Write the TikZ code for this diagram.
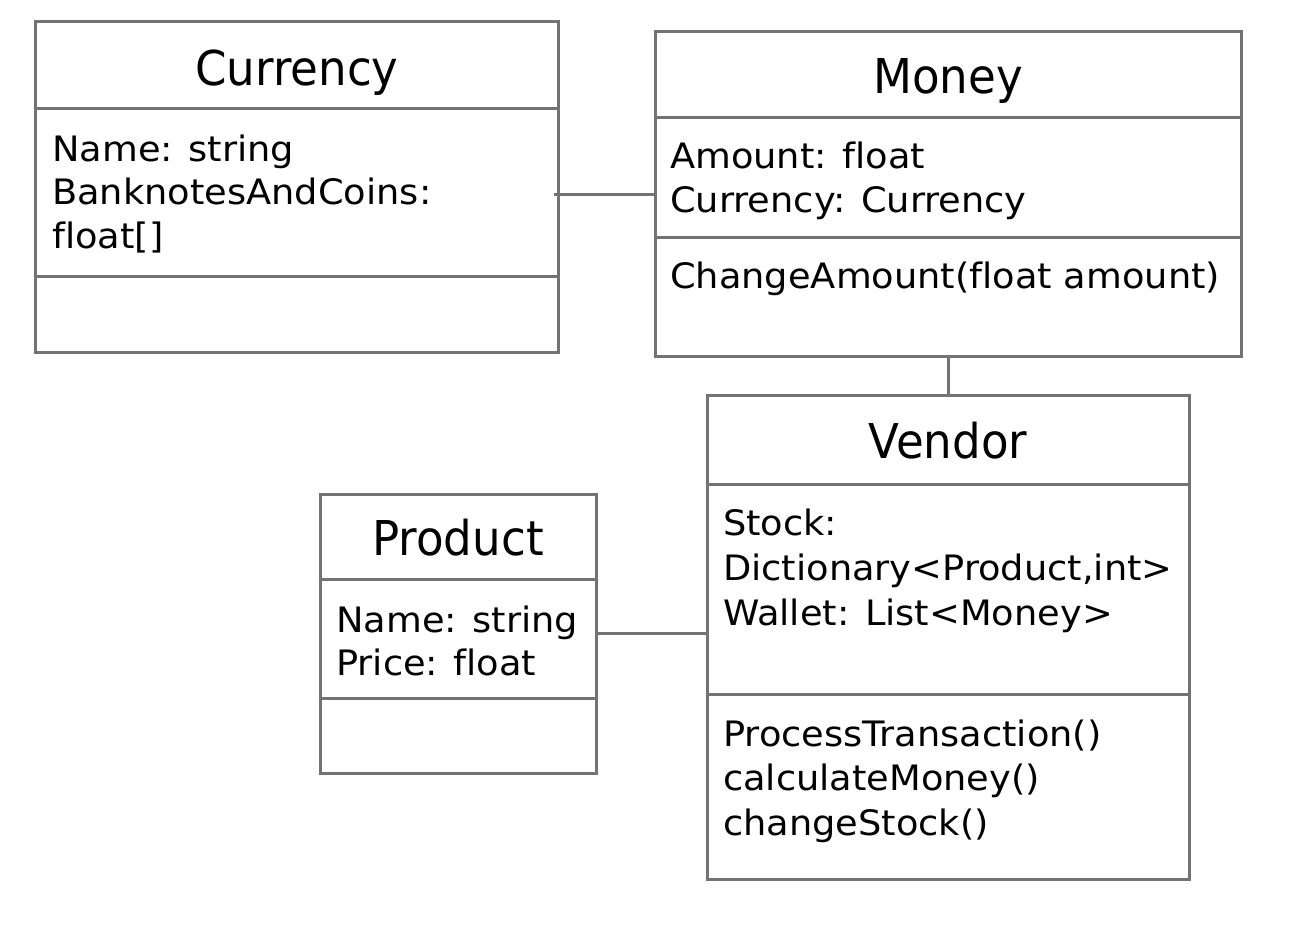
\documentclass[tikz,border=0pt]{standalone}
\usepackage{fontspec}
\setmainfont[Ligatures=NoCommon]{DejaVu Sans}
\newfontfamily\attrfont[Ligatures=NoCommon, FakeStretch=1.05]{DejaVu Sans}
\newfontfamily\titlefont[Ligatures=NoCommon, FakeStretch=0.94]{DejaVu Sans}
\definecolor{linegray}{RGB}{115,115,115}
\begin{document}
\begin{tikzpicture}[x=1bp,y=-1bp,
  box/.style={draw=linegray, line width=3bp, inner sep=0pt, fill=white},
  divider/.style={draw=linegray, line width=3bp},
  conn/.style={draw=linegray, line width=3bp},
  title/.style={anchor=base, inner sep=0pt, font=\titlefont\fontsize{48bp}{58bp}\selectfont},
  attr/.style={anchor=base west, inner sep=0pt, font=\attrfont\fontsize{35bp}{44bp}\selectfont}]
\useasboundingbox (0,0) rectangle (1299,942);
% boxes
\node[box, minimum width=522bp, minimum height=330bp] (currency) at (297,187) {};
\node[box, minimum width=586bp, minimum height=324bp] (money) at (948,194) {};
\node[box, minimum width=276bp, minimum height=279bp] (product) at (458,633.5) {};
\node[box, minimum width=482bp, minimum height=484bp] (vendor) at (948,637) {};
% dividers
\draw[divider] (currency.west |- 0,108) -- (currency.east |- 0,108);
\draw[divider] (currency.west |- 0,276) -- (currency.east |- 0,276);
\draw[divider] (money.west |- 0,117) -- (money.east |- 0,117);
\draw[divider] (money.west |- 0,237) -- (money.east |- 0,237);
\draw[divider] (product.west |- 0,579) -- (product.east |- 0,579);
\draw[divider] (product.west |- 0,698) -- (product.east |- 0,698);
\draw[divider] (vendor.west |- 0,484) -- (vendor.east |- 0,484);
\draw[divider] (vendor.west |- 0,694) -- (vendor.east |- 0,694);
% titles
\node[title] (currencyT) at (297,85) {Currency};
\node[title] (moneyT) at (948,93) {Money};
\node[title] (productT) at (458,555) {Product};
\node[title] (vendorT) at (948,458) {Vendor};
% Currency attributes
\node[attr] (c1) at (52,161) {Name: string};
\node[attr] (c2) at (52,204) {BanknotesAndCoins:};
\node[attr] (c3) at (52,248) {float[]};
% Money
\node[attr] (m1) at (670,168) {Amount: float};
\node[attr] (m2) at (670,212) {Currency: Currency};
\node[attr] (m3) at (670,288) {ChangeAmount(float amount)};
% Product
\node[attr] (p1) at (336,632) {Name: string};
\node[attr] (p2) at (336,675) {Price: float};
% Vendor
\node[attr] (v1) at (723,535) {Stock:};
\node[attr] (v2) at (723,580) {Dictionary<Product,int>};
\node[attr] (v3) at (723,625) {Wallet: List<Money>};
\node[attr] (v4) at (723,746) {ProcessTransaction()};
\node[attr] (v5) at (723,790) {calculateMoney()};
\node[attr] (v6) at (723,835) {changeStock()};
% connectors
\draw[conn] (money.west) -- ([xshift=-6bp]money.west -| currency.east);
\draw[conn] (money.south) -- (money.south |- vendor.north);
\draw[conn] (product.east) -- (product.east -| vendor.west);
\end{tikzpicture}
\end{document}
